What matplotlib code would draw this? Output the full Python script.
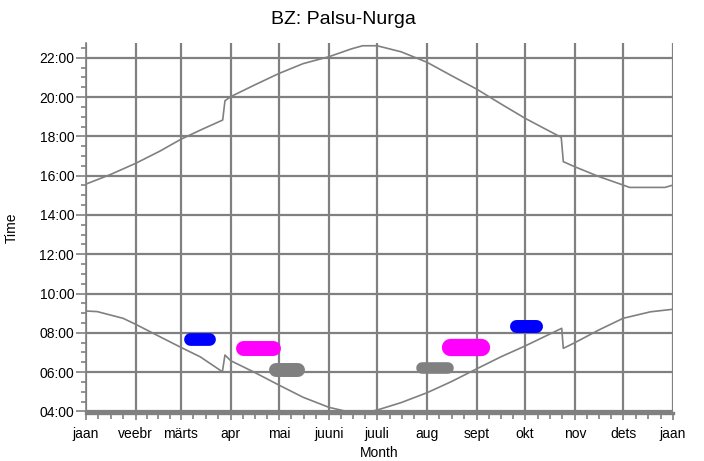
import matplotlib
matplotlib.use('Agg')
import matplotlib.pyplot as plt
from matplotlib.ticker import MultipleLocator, FixedLocator, FuncFormatter

# Kuude algused (päev aasta algusest) ja nimed
kuu_algus = [0, 31, 59, 90, 120, 151, 181, 212, 243, 273, 304, 334, 365]
kuu_nimed = ['jaan', 'veebr', 'märts', 'apr', 'mai', 'juuni', 'juuli',
             'aug', 'sept', 'okt', 'nov', 'dets', 'jaan']

# Päikeseloojang (tundides), loetud pildilt
loojang_paev = [0, 15, 31, 46, 59, 72, 85, 86.4, 90, 105, 120, 135, 151, 165, 172,
                181, 196, 212, 227, 243, 258, 273, 285, 295.5, 296.8, 304, 319,
                334, 338, 360, 365]
loojang_tund = [15.57, 16.05, 16.63, 17.25, 17.85, 18.35, 18.83, 19.81, 20.02, 20.62,
                21.20, 21.70, 22.05, 22.45, 22.61, 22.61, 22.30, 21.77, 21.10, 20.40,
                19.65, 18.92, 18.40, 17.95, 16.71, 16.45, 15.95, 15.52, 15.40, 15.40,
                15.52]

# Päikesetõus (tundides)
tous_paev = [0, 7, 23, 31, 46, 59, 71, 84.8, 86.4, 90, 104, 120, 135, 151, 161,
             170, 178, 181, 196, 212, 227, 243, 258, 273, 295.8, 296.8, 304, 319,
             334, 351, 365]
tous_tund = [9.11, 9.08, 8.74, 8.43, 7.80, 7.26, 6.78, 6.02, 6.87, 6.58, 6.02, 5.34,
             4.72, 4.21, 4.02, 4.02, 4.02, 4.07, 4.45, 4.95, 5.51, 6.17, 6.78, 7.33,
             8.23, 7.21, 7.50, 8.15, 8.74, 9.07, 9.20]

# Värvilised laigud: keskpäev, laius (päevi), kellaaeg, kõrgus (tundi), värv
laik_paev = [70.5, 106.8, 125.0, 217.1, 235.8, 273.6]
laik_laius = [19.5, 28.2, 22.4, 23.8, 30.0, 21.1]
laik_tund = [7.70, 7.25, 6.11, 6.23, 7.28, 8.37]
laik_korgus = [0.65, 0.76, 0.71, 0.59, 0.88, 0.66]
laik_varv = ['#0000ff', '#ff00ff', '#808080', '#808080', '#ff00ff', '#0000ff']

hall = '#808080'


def main():
    plt.rcParams['font.family'] = ['Liberation Sans', 'DejaVu Sans']
    plt.rcParams['font.size'] = 10

    fig = plt.figure(figsize=(7.04, 4.61), dpi=100)
    ax = fig.add_axes([86 / 704, 1 - 413 / 461, 587 / 704, 370 / 461])

    ax.set_xlim(0, 365)
    ax.set_ylim(3.92, 22.75)

    ax.plot(loojang_paev, loojang_tund, color=hall, lw=1.2, zorder=3)
    ax.plot(tous_paev, tous_tund, color=hall, lw=1.2, zorder=3)

    # laigud paksude ümarate otstega joontena
    p0 = ax.transData.transform((0, 0))
    p1 = ax.transData.transform((1, 1))
    px_paev = p1[0] - p0[0]
    px_tund = p1[1] - p0[1]
    for x, w, y, h, c in zip(laik_paev, laik_laius, laik_tund, laik_korgus, laik_varv):
        lw = h * px_tund * 72 / fig.dpi
        ots = h / 2 * px_tund / px_paev
        ax.plot([x - w / 2 + ots, x + w / 2 - ots], [y, y], color=c, lw=lw,
                solid_capstyle='round', zorder=4)

    # x-telg: kuud + veerandkuu väikesed kriipsud
    ax.xaxis.set_major_locator(FixedLocator(kuu_algus))
    ax.set_xticklabels(kuu_nimed)
    vahe = []
    for a, b in zip(kuu_algus[:-1], kuu_algus[1:]):
        vahe += [a + (b - a) * k / 4 for k in (1, 2, 3)]
    ax.xaxis.set_minor_locator(FixedLocator(vahe))

    # y-telg: iga 2 tundi, väikesed iga pool tundi
    ax.yaxis.set_major_locator(FixedLocator(range(4, 23, 2)))
    ax.yaxis.set_minor_locator(MultipleLocator(0.5))
    ax.yaxis.set_major_formatter(FuncFormatter(lambda v, p: '%02d:00' % int(round(v))))

    ax.tick_params(axis='x', which='major', length=5, width=1.2, color=hall, pad=5)
    ax.tick_params(axis='x', which='minor', length=4, width=1.2, color=hall)
    ax.tick_params(axis='y', which='major', length=7, width=1.2, color=hall, pad=1.5)
    ax.tick_params(axis='y', which='minor', length=3.5, width=1.2, color=hall)

    ax.grid(True, which='major', color=hall, lw=1.6)
    ax.set_axisbelow(True)

    ax.spines['top'].set_visible(False)
    ax.spines['right'].set_visible(False)
    ax.spines['left'].set_color(hall)
    ax.spines['left'].set_linewidth(1.2)
    ax.spines['bottom'].set_color(hall)
    ax.spines['bottom'].set_linewidth(2.4)

    ax.set_xlabel('Month')
    ax.xaxis.set_label_coords(0.5, -0.088)
    ax.set_ylabel('Time')
    ax.yaxis.set_label_coords(-0.115, 0.5)

    fig.text(343 / 704, 1 - 19 / 461, 'BZ: Palsu-Nurga', ha='center', va='center',
             fontsize=14)

    fig.savefig('out.png', dpi=100)


if __name__ == '__main__':
    main()
